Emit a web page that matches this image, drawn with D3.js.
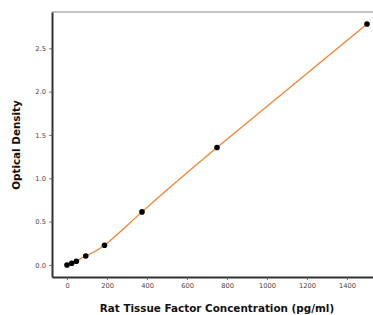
<!doctype html>
<html>
<head>
<meta charset="UTF-8" />
<script src="https://d3js.org/d3.v7.min.js"></script>
<style>
  body { margin: 0; background: #fff; }
  svg { display: block; font-family: "DejaVu Sans", sans-serif; }
</style>
</head>
<body>
<svg id="chart" width="373" height="315"></svg>
<script>
// standard curve data
const concentrations = [0, 23.44, 46.88, 93.75, 187.5, 375, 750, 1500];
const densities = [0.0, 0.019, 0.043, 0.104, 0.227, 0.612, 1.356, 2.78];
const xTicks = [0, 200, 400, 600, 800, 1000, 1200, 1400];
const yTicks = [0.0, 0.5, 1.0, 1.5, 2.0, 2.5];
const xLabel = "Rat Tissue Factor Concentration (pg/ml)";
const yLabel = "Optical Density";

const svg = d3.select("#chart");
const plotLeft = 52, plotTop = 12, plotBottom = 277, plotRight = 382;

const x = d3.scaleLinear().domain([-75, 1575]).range([plotLeft, plotRight]);
const y = d3.scaleLinear().domain([-0.139, 2.919]).range([plotBottom, plotTop]);

const pts = concentrations.map((c, i) => ({ c: c, od: densities[i] }));

// top spine (gray)
svg.append("line")
  .attr("x1", plotLeft).attr("x2", 373)
  .attr("y1", plotTop).attr("y2", plotTop)
  .attr("stroke", "#888").attr("stroke-width", 1.2);

// fitted curve
svg.append("path")
  .datum(pts)
  .attr("fill", "none")
  .attr("stroke", "#f5822a")
  .attr("stroke-width", 1.2)
  .attr("d", d3.line().x(d => x(d.c)).y(d => y(d.od)).curve(d3.curveNatural));

svg.selectAll(".pt")
  .data(pts)
  .enter().append("circle")
  .attr("class", "pt")
  .attr("cx", d => x(d.c))
  .attr("cy", d => y(d.od))
  .attr("r", 2.8)
  .attr("fill", "#000");

// axes
const xAxis = svg.append("g")
  .attr("transform", "translate(0," + plotBottom + ")")
  .call(d3.axisBottom(x).tickValues(xTicks).tickFormat(d3.format("d")).tickSize(3).tickPadding(3).tickSizeOuter(0));
const yAxis = svg.append("g")
  .attr("transform", "translate(" + plotLeft + ",0)")
  .call(d3.axisLeft(y).tickValues(yTicks).tickFormat(d3.format(".1f")).tickSize(3).tickPadding(3).tickSizeOuter(0));

[xAxis, yAxis].forEach(g => {
  g.attr("font-family", "DejaVu Sans");
  g.select(".domain").attr("stroke", "#333").attr("stroke-width", 2);
  g.selectAll(".tick line").attr("stroke", "#555").attr("stroke-width", 0.8);
  g.selectAll(".tick text").attr("fill", "#444").style("font-size", "6.7px");
});

svg.append("text")
  .attr("x", 217).attr("y", 312)
  .attr("text-anchor", "middle")
  .style("font-size", "10.4px").style("font-weight", "bold")
  .attr("fill", "#111")
  .text(xLabel);

svg.append("text")
  .attr("transform", "translate(20," + 145 + ") rotate(-90)")
  .attr("text-anchor", "middle")
  .style("font-size", "10.4px").style("font-weight", "bold")
  .attr("fill", "#111")
  .text(yLabel);
</script>
</body>
</html>
